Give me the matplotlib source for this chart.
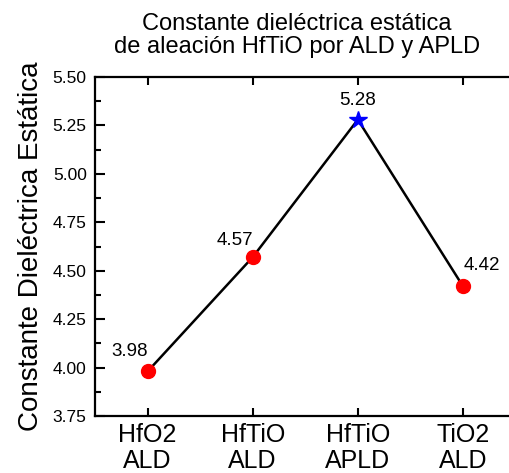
import matplotlib
matplotlib.use("Agg")
import matplotlib.pyplot as plt
from matplotlib.ticker import MultipleLocator

# data
categories = ["HfO2\nALD", "HfTiO\nALD", "HfTiO\nAPLD", "TiO2\nALD"]
values = [3.98, 4.57, 5.28, 4.42]
markers = ["o", "o", "*", "o"]
colors = ["red", "red", "blue", "red"]
label_offsets = [(-18, 20), (-18, 17), (0, 19), (19, 21)]

plt.rcParams["font.family"] = ["Liberation Sans", "DejaVu Sans"]

fig = plt.figure(figsize=(5.10, 4.73), dpi=100)
ax = fig.add_axes([0.1863, 0.1205, 0.8245, 0.7167])

x = list(range(len(values)))
ax.plot(x, values, color="black", lw=1.8, zorder=1)
for i in x:
    ax.plot(x[i], values[i], marker=markers[i], color=colors[i], ms=10 if markers[i] == "o" else 13,
            mec=colors[i], ls="none", zorder=2)
    ax.annotate(f"{values[i]:.2f}", (x[i], values[i]), xytext=label_offsets[i],
                textcoords="offset pixels", ha="center", va="center", fontsize=13.5)

ax.set_xlim(-0.5, 3.5)
ax.set_ylim(3.75, 5.50)
ax.set_xticks(x)
ax.set_xticklabels(categories, fontsize=18, linespacing=1.1)
ax.yaxis.set_major_locator(MultipleLocator(0.25))
ax.yaxis.set_minor_locator(MultipleLocator(0.125))
ax.yaxis.set_major_formatter(plt.matplotlib.ticker.StrMethodFormatter("{x:.2f}"))
ax.tick_params(axis="y", which="major", direction="in", length=7, width=1.5, labelsize=12.5, pad=6)
ax.tick_params(axis="y", which="minor", direction="in", length=4, width=1.5)
ax.tick_params(axis="x", which="major", direction="in", length=6, width=1.5, top=True, pad=5)
for s in ax.spines.values():
    s.set_linewidth(1.6)

ax.set_ylabel("Constante Dieléctrica Estática", fontsize=20, labelpad=6)
ax.set_title("Constante dieléctrica estática\nde aleación HfTiO por ALD y APLD", fontsize=17, pad=17, x=0.48,
             linespacing=1.1)

plt.savefig("out.png", dpi=100)
